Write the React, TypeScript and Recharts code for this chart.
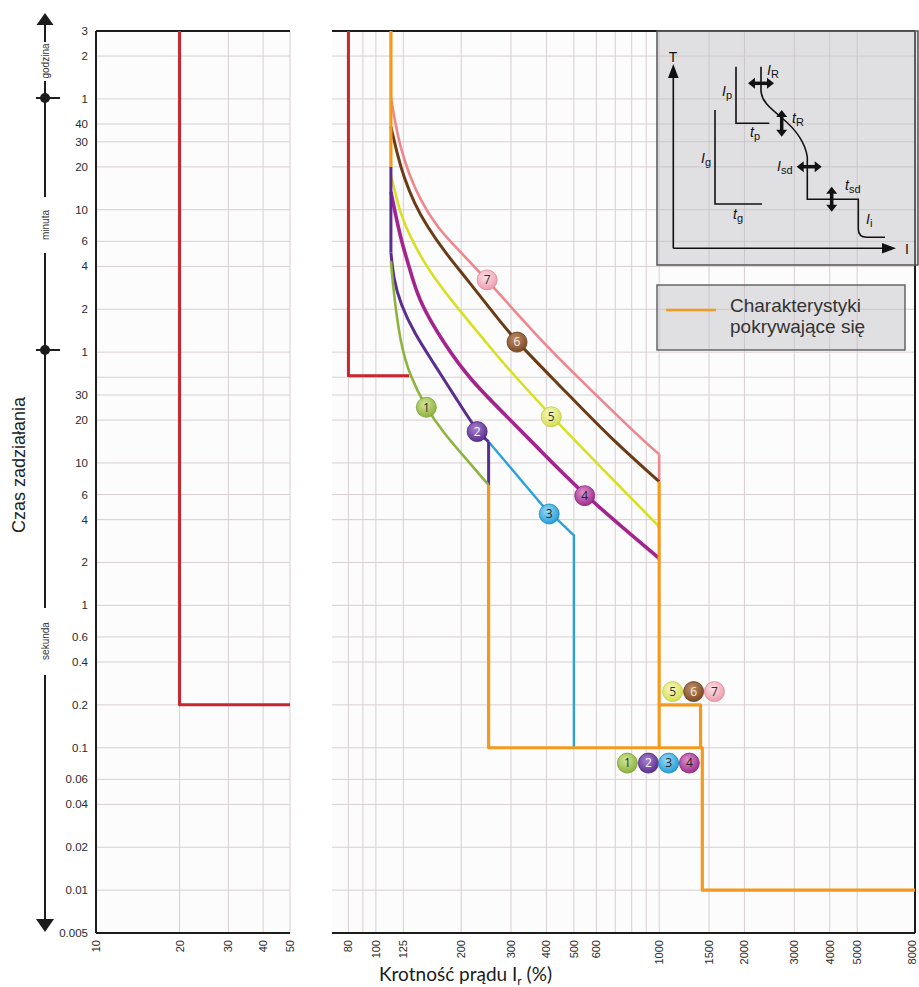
import React from 'react'
import {
  CartesianGrid,
  ComposedChart,
  Line,
  LineChart,
  ReferenceLine,
  Scatter,
  XAxis,
  YAxis,
} from 'recharts'

// --- axis ticks ---
const yTickValues = [
  0.005, 0.01, 0.02, 0.04, 0.06, 0.1, 0.2, 0.4, 0.6, 1, 2, 4, 6, 10, 20, 30, 40,
  60, 120, 240, 360, 600, 1200, 1800, 2400, 3600, 7200, 10800,
]
const yTickLabels = [
  '0.005', '0.01', '0.02', '0.04', '0.06', '0.1', '0.2', '0.4', '0.6', '1', '2', '4', '6', '10', '20', '30', '',
  '1', '2', '4', '6', '10', '20', '30', '40', '1', '2', '3',
]
const leftXTicks = [10, 20, 30, 40, 50]
const rightXTicks = [80, 90, 100, 125, 200, 300, 400, 500, 600, 700, 800, 900, 1000, 1500, 2000, 3000, 4000, 5000, 8000]
const rightXLabels = ['80', '', '100', '125', '200', '300', '400', '500', '600', '', '', '', '1000', '1500', '2000', '3000', '4000', '5000', '8000']

// --- series (x = % of Ir, y = seconds) ---
const redLeft = [[20, 10800], [20, 0.2], [50, 0.2]]
const redRight = [[80, 10800], [80, 41], [131, 41]]
const orangeTop = [[113, 10800], [113, 1200]]
const orangeMain = [[250, 7], [250, 0.1], [1420, 0.1], [1420, 0.01], [8000, 0.01]]
const orangeRight = [[1000, 7.4], [1000, 0.1]]
const orangeStep = [[1000, 0.2], [1400, 0.2], [1400, 0.1]]

const curve7 = [[113, 3700], [117, 2430], [122, 1660], [130.5, 1080], [143.5, 700], [164, 456], [193.5, 320], [247, 193], [381, 73], [500, 42.6], [860, 14.9], [1000, 11.5]]
const drop7 = [[1000, 11.5], [1000, 7.4]]
const curve6 = [[113, 2300], [118.8, 1494], [125.3, 1023], [136.6, 666], [151.7, 456], [178, 290], [204, 209], [275, 98], [315, 70.6], [449, 34.4], [674, 14.9], [1000, 7.4]]
const curve5 = [[113, 1050], [115.6, 871], [122, 566], [132, 388], [147.4, 260], [160, 203], [188.2, 132], [246.7, 69.2], [275, 53], [416, 21.1], [1000, 3.57]]
const curve4 = [[113, 800], [117.1, 566], [122, 388], [128.8, 266], [134.9, 195], [143.6, 132], [173.5, 69.2], [215.7, 38.2], [282.8, 22.3], [371, 12.9], [546, 5.89], [1000, 2.14]]
const vert2 = [[113, 1200], [113, 300]]
const curve2 = [[113, 300], [115.6, 193], [122, 132], [136.6, 81.3], [160, 50.1], [193.5, 27.7], [227.8, 16.6], [250, 14.1]]
const drop2 = [[250, 14.1], [250, 7]]
const curve1 = [[113, 260], [115.6, 155], [122, 69.2], [131.5, 41.4], [149.5, 24.8], [173.5, 16.2], [209.8, 10.5], [250, 7]]
const line3 = [[250, 14.1], [386, 5.07], [500, 3.1], [500, 0.1]]

// --- numbered markers ---
const markerNums = [1, 2, 3, 4, 5, 6, 7, 1, 2, 3, 4, 5, 6, 7]
const markerX = [150.7, 227.8, 409, 546, 416, 315, 247, 772, 916, 1080, 1278, 1116, 1323, 1567]
const markerY = [24.6, 16.6, 4.38, 5.89, 21.1, 70.6, 193, 0.078, 0.078, 0.078, 0.078, 0.248, 0.248, 0.248]

const pts = (a: number[][]) => a.map(([x, y]) => ({ x, y }))
const markers = markerNums.map((n, i) => ({ n, x: markerX[i], y: markerY[i] }))

const FONT = "'Liberation Sans', Arial, Helvetica, sans-serif"
const INK = '#1c1c1c'
const GRID = '#d8cfd2'
const C = {
  red: '#c8262c',
  orange: '#f39a1e',
  pink: '#ef868d',
  brown: '#6b3b16',
  yellow: '#d9df22',
  magenta: '#a4248e',
  purple: '#5a2d8e',
  blue: '#2aa1dc',
  green: '#8db43e',
}

const markerStyle: Record<number, { base: string; light: string; edge: string; text: string }> = {
  1: { base: '#87ad35', light: '#d2e69a', edge: '#79a02c', text: '#2a2a2a' },
  2: { base: '#55298a', light: '#a782d0', edge: '#4a2279', text: '#ffffff' },
  3: { base: '#1b98d6', light: '#9adaf7', edge: '#1788c2', text: '#1e1e1e' },
  4: { base: '#9a2688', light: '#dc93cf', edge: '#86207a', text: '#222222' },
  5: { base: '#d3dc4a', light: '#f7f8c8', edge: '#c2cc38', text: '#333333' },
  6: { base: '#774420', light: '#c0906a', edge: '#663819', text: '#f6eee4' },
  7: { base: '#ec98aa', light: '#fde0e6', edge: '#de8397', text: '#333333' },
}

const yLabelOf = new Map(yTickValues.map((v, i) => [v, yTickLabels[i]]))
const rightLabelOf = new Map(rightXTicks.map((v, i) => [v, rightXLabels[i]]))

const YTick = (props: any) => {
  const { x, y, payload } = props
  const label = yLabelOf.get(payload.value) ?? ''
  if (!label) return null
  return (
    <text x={x} y={y} dy={4} textAnchor="end" fontSize={11.5} fontFamily={FONT} fill="#2a2a2a">
      {label}
    </text>
  )
}

const makeXTick = (labelOf: (v: number) => string, lastValue: number) => (props: any) => {
  const { y, payload } = props
  const label = labelOf(payload.value)
  if (!label) return null
  // keep the last label inside the drawing
  const x = payload.value === lastValue && lastValue === 8000 ? props.x - 3 : props.x
  return (
    <text
      x={x}
      y={y - 1}
      dy={4}
      textAnchor="end"
      transform={`rotate(-90 ${x} ${y - 1})`}
      fontSize={11}
      fontFamily={FONT}
      fill="#2a2a2a"
    >
      {label}
    </text>
  )
}
const LeftXTick = makeXTick((v) => String(v), 50)
const RightXTick = makeXTick((v) => rightLabelOf.get(v) ?? '', 8000)

const MarkerShape = (props: any) => {
  const { cx, cy } = props
  const n = props.payload?.n ?? props.n
  const s = markerStyle[n]
  if (!s || cx == null) return null
  return (
    <g>
      <circle cx={cx} cy={cy} r={10} fill={`url(#mk${n})`} stroke={s.edge} strokeWidth={0.8} />
      <text x={cx} y={cy} dy={4.3} textAnchor="middle" fontSize={12} fontFamily="'Open Sans', sans-serif" fill={s.text}>
        {n}
      </text>
    </g>
  )
}

const series = (data: number[][], color: string, width: number, type: 'linear' | 'basis' = 'linear') => (
  <Line
    data={pts(data)}
    dataKey="y"
    type={type}
    stroke={color}
    strokeWidth={width}
    strokeLinejoin="round"
    dot={false}
    activeDot={false}
    isAnimationActive={false}
  />
)

const DArrow = ({ x1, y1, x2, y2 }: { x1: number; y1: number; x2: number; y2: number }) => {
  const h = y1 === y2
  const L = 7
  const W = 5.5
  if (h) {
    return (
      <g fill="#111">
        <line x1={x1 + L - 1} y1={y1} x2={x2 - L + 1} y2={y2} stroke="#111" strokeWidth={3.5} />
        <polygon points={`${x1},${y1} ${x1 + L},${y1 - W} ${x1 + L},${y1 + W}`} />
        <polygon points={`${x2},${y2} ${x2 - L},${y2 - W} ${x2 - L},${y2 + W}`} />
      </g>
    )
  }
  return (
    <g fill="#111">
      <line x1={x1} y1={y1 + L - 1} x2={x2} y2={y2 - L + 1} stroke="#111" strokeWidth={3.5} />
      <polygon points={`${x1},${y1} ${x1 - W},${y1 + L} ${x1 + W},${y1 + L}`} />
      <polygon points={`${x2},${y2} ${x2 - W},${y2 - L} ${x2 + W},${y2 - L}`} />
    </g>
  )
}

const Sym = ({ x, y, main, sub }: { x: number; y: number; main: string; sub: string }) => (
  <text x={x} y={y} fontFamily={FONT} fill="#111">
    <tspan fontStyle="italic" fontSize={14}>{main}</tspan>
    <tspan fontSize={11} dy={3}>{sub}</tspan>
  </text>
)

export default function App() {
  const axisLine = { stroke: INK, strokeWidth: 2 }
  return (
    <div style={{ position: 'absolute', left: 0, top: 0, width: 919, height: 987, background: '#ffffff', fontFamily: FONT }}>
      <div style={{ position: 'absolute', left: 0, top: 0 }}>
        <LineChart width={300} height={987} margin={{ top: 31, right: 10, bottom: 0, left: 0 }}>
          <CartesianGrid stroke={GRID} fill="#fcfcfc" horizontalValues={yTickValues} verticalValues={leftXTicks} />
          <XAxis
            type="number"
            dataKey="x"
            scale="log"
            domain={[10, 50]}
            ticks={leftXTicks}
            interval={0}
            allowDataOverflow
            height={54}
            tickLine={false}
            axisLine={axisLine}
            tick={LeftXTick}
          />
          <YAxis
            type="number"
            dataKey="y"
            scale="log"
            domain={[0.005, 10800]}
            ticks={yTickValues}
            interval={0}
            allowDataOverflow
            width={96}
            tickLine={false}
            axisLine={axisLine}
            tick={YTick}
          />
          <ReferenceLine y={10800} stroke={INK} strokeWidth={2} ifOverflow="visible" />
          {series(redLeft, C.red, 3)}
        </LineChart>
      </div>

      <div style={{ position: 'absolute', left: 320, top: 0 }}>
        <ComposedChart width={599} height={987} margin={{ top: 31, right: 4, bottom: 0, left: 12 }}>
          <CartesianGrid stroke={GRID} fill="#fcfcfc" horizontalValues={yTickValues} verticalValues={rightXTicks} />
          <XAxis
            type="number"
            dataKey="x"
            scale="log"
            domain={[70, 8000]}
            ticks={rightXTicks}
            interval={0}
            allowDataOverflow
            height={54}
            tickLine={false}
            axisLine={axisLine}
            tick={RightXTick}
          />
          <YAxis
            type="number"
            dataKey="y"
            scale="log"
            domain={[0.005, 10800]}
            ticks={yTickValues}
            interval={0}
            allowDataOverflow
            hide
          />
          <ReferenceLine y={10800} stroke={INK} strokeWidth={2} ifOverflow="visible" />
          <ReferenceLine x={8000} stroke={INK} strokeWidth={2} ifOverflow="visible" />
          {series(redRight, C.red, 3)}
          {series(curve7, C.pink, 2.6, 'basis')}
          {series(drop7, C.pink, 2.6)}
          {series(curve6, C.brown, 3, 'basis')}
          {series(curve5, C.yellow, 2.6, 'basis')}
          {series(curve4, C.magenta, 3.6, 'basis')}
          {series(line3, C.blue, 2.4)}
          {series(vert2, C.purple, 3)}
          {series(curve2, C.purple, 3, 'basis')}
          {series(drop2, C.purple, 3)}
          {series(curve1, C.green, 2.6, 'basis')}
          {series(orangeTop, C.orange, 3.2)}
          {series(orangeMain, C.orange, 3.2)}
          {series(orangeRight, C.orange, 3.2)}
          {series(orangeStep, C.orange, 3.2)}
          <Scatter data={markers} dataKey="y" shape={MarkerShape} isAnimationActive={false} />
        </ComposedChart>
      </div>

      <svg width={919} height={987} style={{ position: 'absolute', left: 0, top: 0, pointerEvents: 'none' }}>
        <defs>
          {Object.entries(markerStyle).map(([n, s]) => (
            <radialGradient key={n} id={`mk${n}`} cx="42%" cy="35%" r="70%">
              <stop offset="0%" stopColor={s.light} />
              <stop offset="100%" stopColor={s.base} />
            </radialGradient>
          ))}
        </defs>

        {/* time axis arrow on the left */}
        <g stroke={INK} strokeWidth={2}>
          <line x1={45} y1={24} x2={45} y2={42} />
          <line x1={45} y1={81} x2={45} y2={197} />
          <line x1={45} y1={253} x2={45} y2={608} />
          <line x1={45} y1={675} x2={45} y2={920} />
          <line x1={36} y1={98} x2={60} y2={98} />
          <line x1={36} y1={350} x2={60} y2={350} />
        </g>
        <polygon points="45,13 36.5,25 53.5,25" fill={INK} />
        <polygon points="45,932 36,919 54,919" fill={INK} />
        <circle cx={45} cy={98} r={5} fill={INK} />
        <circle cx={45} cy={350} r={5} fill={INK} />
        <text x={45} y={61} dy={3.5} transform="rotate(-90 45 61)" textAnchor="middle" fontSize={10} fill="#333">godzina</text>
        <text x={45} y={225} dy={3.5} transform="rotate(-90 45 225)" textAnchor="middle" fontSize={10} fill="#333">minuta</text>
        <text x={45} y={641} dy={3.5} transform="rotate(-90 45 641)" textAnchor="middle" fontSize={10} fill="#333">sekunda</text>
        <text x={19} y={465} dy={6} transform="rotate(-90 19 465)" textAnchor="middle" fontSize={18} fill="#222">
          Czas zadziałania
        </text>

        {/* x axis title */}
        <text x={379} y={981} fontFamily="Lato, 'Noto Sans', sans-serif" fontSize={19} fill="#1a1a1a">
          Krotność prądu I<tspan fontSize={12} dy={4}>r</tspan>
          <tspan dy={-4}> (%)</tspan>
        </text>

        {/* schematic inset */}
        <rect x={657} y={31} width={261} height={234} fill="rgba(186,186,194,0.42)" stroke="#555" strokeWidth={1.5} />
        <g stroke="#111" strokeWidth={1.6} fill="none">
          <line x1={673.3} y1={248.3} x2={673.3} y2={77} />
          <line x1={673.3} y1={248.3} x2={884} y2={248.3} />
          <path d="M761 66.7 V90 C761 101 770 108 782 118 S805 141 807.3 157 V199.3 H858.3 V229 C858.3 235 861 237.3 867 237.3 H885" />
          <path d="M736 66.7 V123.3 H769.3" />
          <path d="M715 110 V204 H762" />
        </g>
        <polygon points="673.3,64 668,78 678.6,78" fill="#111" />
        <polygon points="896,248.3 882,243 882,253.6" fill="#111" />
        <text x={673} y={62} textAnchor="middle" fontSize={14} fill="#111">T</text>
        <text x={905} y={254} fontSize={14} fill="#111">I</text>
        <DArrow x1={748} y1={83.3} x2={774} y2={83.3} />
        <DArrow x1={781.7} y1={110} x2={781.7} y2={136.7} />
        <DArrow x1={796.7} y1={166.7} x2={821.7} y2={166.7} />
        <DArrow x1={831.7} y1={186.7} x2={831.7} y2={211.7} />
        <Sym x={767} y={75} main="I" sub="R" />
        <Sym x={722} y={96} main="I" sub="p" />
        <Sym x={792} y={123} main="t" sub="R" />
        <Sym x={750} y={137} main="t" sub="p" />
        <Sym x={701} y={163} main="I" sub="g" />
        <Sym x={777} y={171} main="I" sub="sd" />
        <Sym x={845} y={190} main="t" sub="sd" />
        <Sym x={733} y={219} main="t" sub="g" />
        <Sym x={866} y={224} main="I" sub="i" />

        {/* legend */}
        <rect x={657} y={285} width={248} height={65} fill="rgba(186,186,194,0.42)" stroke="#666" strokeWidth={1.5} />
        <line x1={666} y1={310} x2={716} y2={310} stroke={C.orange} strokeWidth={2.5} />
        <text x={730} y={312} fontSize={19} fill="#333">Charakterystyki</text>
        <text x={730} y={333} fontSize={19} fill="#333">pokrywające się</text>
      </svg>
    </div>
  )
}
